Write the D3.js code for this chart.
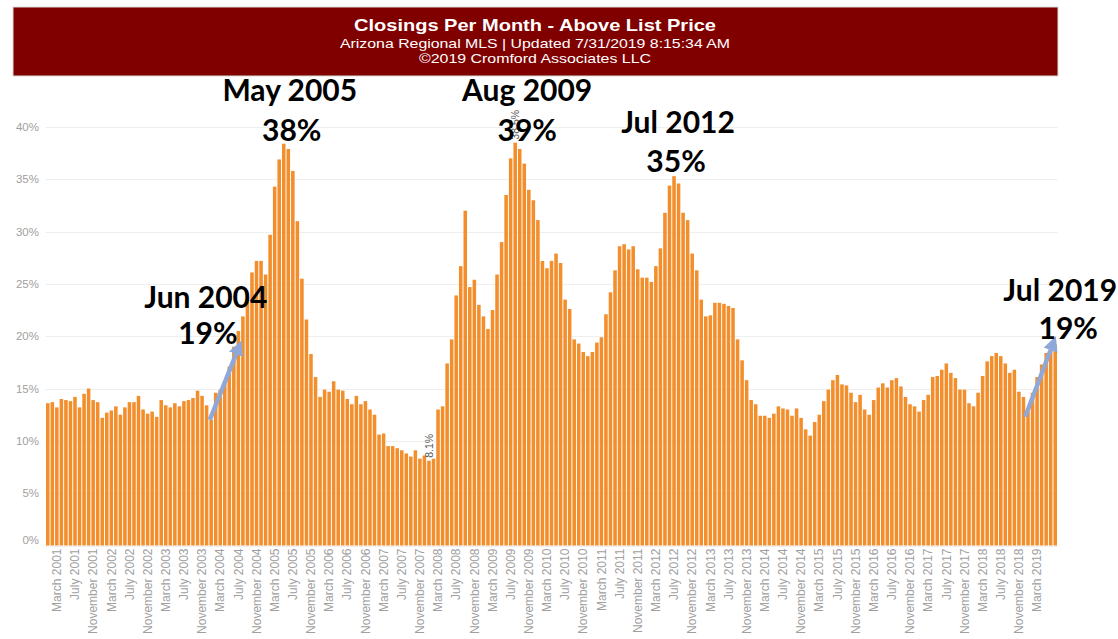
<!DOCTYPE html>
<html><head><meta charset="utf-8">
<script src="https://cdn.jsdelivr.net/npm/d3@7"></script>
<style>body{margin:0;background:#fff}svg{display:block}</style>
</head><body>
<svg id="chart" width="1118" height="639"></svg>
<script>
// ---------- DATA ----------
const titleLines = ["Closings Per Month - Above List Price",
  "Arizona Regional MLS | Updated  7/31/2019 8:15:34 AM",
  "\u00A92019 Cromford Associates LLC"];
const firstMonth = new Date(2001, 0, 1);
// % of closings above list price, Jan 2001 .. Jul 2019
const pctAboveList = [
  13.6,13.7,13.2,14.0,13.9,13.8,14.2,13.2,14.5,15.0,13.9,13.7,
  12.2,12.7,12.9,13.3,12.5,13.2,13.7,13.7,14.3,13.0,12.6,12.8,
  12.3,13.9,13.4,13.2,13.6,13.3,13.8,13.9,14.1,14.8,14.3,13.4,
  12.0,14.6,14.9,15.5,17.1,19.0,20.5,21.9,23.5,26.1,27.2,27.2,
  25.9,29.7,34.3,36.9,38.4,37.9,35.8,31.0,25.5,21.6,18.3,16.1,
  14.2,14.9,14.7,15.7,14.9,14.8,14.0,13.5,14.3,13.5,13.8,13.0,
  12.5,10.6,10.7,9.5,9.5,9.3,9.1,8.8,8.5,9.1,8.3,8.6,
  8.1,8.3,13.0,13.3,17.4,19.7,23.9,26.7,32.0,24.7,25.4,23.0,
  21.9,20.7,22.5,25.9,29.0,33.5,37.0,38.5,37.9,36.5,34.0,33.0,
  31.1,27.2,26.5,27.2,27.9,27.0,23.5,22.6,19.7,19.3,18.5,18.1,
  18.5,19.4,19.9,22.1,24.2,26.3,28.6,28.8,28.3,28.6,26.4,25.6,
  25.6,25.2,26.7,28.4,31.8,34.4,35.3,34.6,31.8,31.1,27.9,26.3,
  23.5,21.9,22.0,23.2,23.2,23.1,22.9,22.7,19.7,17.7,15.8,13.9,
  13.5,12.4,12.4,12.2,12.6,13.3,13.1,13.0,12.4,13.1,12.2,11.1,
  10.5,11.8,12.5,13.8,14.9,15.8,16.3,15.4,15.3,14.6,13.7,14.4,
  13.0,12.5,13.9,15.1,15.5,15.1,15.8,16.0,15.2,14.2,13.5,13.3,
  12.8,13.9,14.4,16.1,16.2,16.8,17.4,16.5,16.0,14.9,14.9,13.6,
  13.3,14.6,16.2,17.6,18.1,18.4,18.1,17.4,16.5,16.8,14.7,14.2,
  12.8,14.6,16.1,17.3,18.4,18.8,19.2
];
const months = pctAboveList.map((v, i) => d3.timeMonth.offset(firstMonth, i));
const yTicks = [0, 5, 10, 15, 20, 25, 30, 35, 40];
// x tick labels: March 2001, July 2001, ... March 2019
const xTickEvery = 4, xTickStart = 2, xTickLast = 218;
// callouts
const calloutMonths = ["Jun 2004", "May 2005", "Aug 2009", "Jul 2012", "Jul 2019"];
const calloutValues = ["19%", "38%", "39%", "35%", "19%"];
const calloutIndex = [41, 52, 103, 138, 222];
// in-chart value labels (min / max)
const markLabelIndex = [84, 103];
const markLabelText = ["8.1%", "38.5%"];

// ---------- LAYOUT ----------
const svg = d3.select("#chart");
const plot = {left: 45.5, right: 1057.5, top: 110, bottom: 545.5};
const x = d3.scaleBand().domain(d3.range(pctAboveList.length))
  .range([plot.left, plot.right]).paddingInner(0.22).paddingOuter(0.11);
const y = d3.scaleLinear().domain([0, 40]).range([plot.bottom, 127]);
const xc = i => x(i) + x.bandwidth() / 2;

// banner
svg.append("rect").attr("x", 13).attr("y", 7).attr("width", 1045).attr("height", 69)
  .attr("fill", "#800000").attr("stroke", "#d9d9d9").attr("stroke-width", 1);
const bannerFont = "'Liberation Sans Narrow','Arial Narrow','Liberation Sans',Arial,sans-serif";
const tl = [
  {y: 31, size: 17, w: 362, weight: "bold"},
  {y: 48, size: 13, w: 390, weight: "normal"},
  {y: 63, size: 13, w: 232, weight: "normal"}
];
titleLines.forEach((t, k) => {
  svg.append("text").attr("x", 535).attr("y", tl[k].y).attr("text-anchor", "middle")
    .attr("font-family", bannerFont).attr("font-size", tl[k].size)
    .attr("font-weight", tl[k].weight).attr("fill", "#fff")
    .attr("textLength", tl[k].w).attr("lengthAdjust", "spacingAndGlyphs").text(t);
});

// gridlines + y labels
const gAxisY = svg.append("g");
gAxisY.selectAll("line").data(yTicks).join("line")
  .attr("x1", plot.left).attr("x2", plot.right)
  .attr("y1", d => Math.round(y(d)) + 0.5).attr("y2", d => Math.round(y(d)) + 0.5)
  .attr("stroke", "#efefef").attr("stroke-width", 1);
gAxisY.selectAll("text").data(yTicks).join("text")
  .attr("x", 39).attr("y", d => y(d) + (d === 0 ? -6 : 0))
  .attr("dy", "0.35em").attr("text-anchor", "end")
  .attr("font-family", "'Liberation Sans',Arial,sans-serif").attr("font-size", 11.5)
  .attr("fill", "#a0a0a0").text(d => d + "%");

// bars
svg.append("g").selectAll("rect").data(pctAboveList).join("rect")
  .attr("x", (d, i) => x(i)).attr("width", x.bandwidth())
  .attr("y", d => y(d)).attr("height", d => y(0) - y(d))
  .attr("fill", "#f28e2b");

// x labels
const fmt = d3.timeFormat("%B %Y");
const tickIdx = d3.range(xTickStart, xTickLast + 1, xTickEvery);
svg.append("g").selectAll("text").data(tickIdx).join("text")
  .attr("transform", i => `translate(${xc(i)},${plot.bottom + 3}) rotate(-90)`)
  .attr("dy", "0.35em").attr("text-anchor", "end")
  .attr("font-family", "'Liberation Sans',Arial,sans-serif").attr("font-size", 12)
  .attr("fill", "#a0a0a0").text(i => fmt(months[i]));

// min/max value labels
svg.append("g").selectAll("text").data(markLabelIndex).join("text")
  .attr("transform", i => `translate(${xc(i)},${y(pctAboveList[i]) - 3}) rotate(-90)`)
  .attr("dy", "0.35em").attr("text-anchor", "start")
  .attr("font-family", "'Liberation Sans',Arial,sans-serif").attr("font-size", 10.5)
  .attr("fill", "#555").text((i, k) => markLabelText[k]);

// arrows
const defs = svg.append("defs");
defs.append("marker").attr("id", "ah").attr("viewBox", "0 0 10 10")
  .attr("refX", 7).attr("refY", 5).attr("markerWidth", 3.3).attr("markerHeight", 3.3)
  .attr("markerUnits", "strokeWidth").attr("orient", "auto")
  .append("path").attr("d", "M0,0 L10,5 L0,10 z").attr("fill", "#8fa8d8");
const layout = {
  "Jun 2004": {dx: -28, ty: 308, vy: 344, vdx: 2, arrow: {tailDx: -24, tailV: 12.0, tipDx: 6, tipV: 19.2}},
  "May 2005": {dx: 6, ty: 101, vy: 141, vdx: 2},
  "Aug 2009": {dx: 12, ty: 101, vy: 141, vdx: 0},
  "Jul 2012": {dx: 4, ty: 133, vy: 172, vdx: -2},
  "Jul 2019": {dx: 5, ty: 301, vy: 339, vdx: 8, arrow: {tailDx: -30, tailV: 12.3, tipDx: -1, tipV: 19.6}}
};
calloutMonths.forEach((m, k) => {
  const L = layout[m], i = calloutIndex[k];
  if (L.arrow) {
    svg.append("line")
      .attr("x1", xc(i) + L.arrow.tailDx).attr("y1", y(L.arrow.tailV))
      .attr("x2", xc(i) + L.arrow.tipDx).attr("y2", y(L.arrow.tipV))
      .attr("stroke", "#8fa8d8").attr("stroke-width", 4.5).attr("marker-end", "url(#ah)");
  }
  svg.append("text").attr("x", xc(i) + L.dx).attr("y", L.ty).attr("text-anchor", "middle")
    .attr("font-family", "Lato,'Open Sans',sans-serif").attr("font-weight", "bold")
    .attr("font-size", 30).attr("fill", "#000").text(m);
  svg.append("text").attr("x", xc(i) + L.dx + L.vdx).attr("y", L.vy).attr("text-anchor", "middle")
    .attr("font-family", "Lato,'Open Sans',sans-serif").attr("font-weight", "bold")
    .attr("font-size", 30).attr("fill", "#000").text(calloutValues[k]);
});
</script>
</body></html>
